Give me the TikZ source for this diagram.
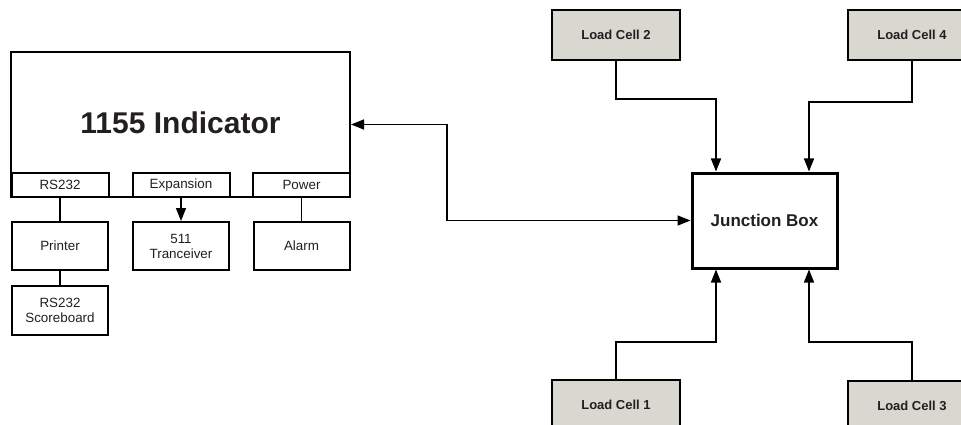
\documentclass[tikz,border=0pt]{standalone}
\usepackage{fontspec}
\setmainfont{Liberation Sans}
\usetikzlibrary{arrows.meta}
\definecolor{cellgray}{RGB}{216,215,208}
\definecolor{txt}{RGB}{35,31,32}

\begin{document}
\begin{tikzpicture}[x=1pt,y=-1pt,
  box/.style={draw,line width=2pt,rectangle,inner sep=0pt,text=txt,align=center,font=\fontsize{13.4}{15}\selectfont},
  port/.style={box,fill=white,minimum width=97pt,minimum height=24pt},
  unit/.style={box,minimum width=96pt,minimum height=48pt},
  cell/.style={box,fill=cellgray,minimum width=128pt,minimum height=50pt,font=\fontsize{13}{15}\selectfont\bfseries},
  conn/.style={line width=1.5pt},
  tip/.style={-{Triangle[length=13pt,width=10pt]}}]
\useasboundingbox (0,0) rectangle (961,425);
\node[box,minimum width=339pt,minimum height=145pt] (ind) at (180.5,124.5) {};
\node[text=txt,font=\fontsize{30}{34}\selectfont\bfseries] (indlabel) at (180.5,123) {1155 Indicator};
\node[port] (rs) at (60,185) {RS232};
\node[port] (exp) at (181,185) {Expansion};
\node[port] (pow) at (301.5,185) {Power};
\node[unit] (prn) at (60,246) {Printer};
\node[unit] (trx) at (181,246) {511\\Tranceiver};
\node[unit] (alm) at (301.5,246) {Alarm};
\node[unit,minimum height=49pt] (sb) at (60,310.5) {RS232\\Scoreboard};
\node[box,line width=3pt,minimum width=145pt,minimum height=95pt,font=\fontsize{17}{20}\selectfont\bfseries] (jb) at (764.5,220.5) {Junction Box};
\node[cell] (lc2) at (616,35) {Load Cell 2};
\node[cell] (lc4) at (912,35) {Load Cell 4};
\node[cell] (lc1) at (616,405) {Load Cell 1};
\node[cell] (lc3) at (912,406) {Load Cell 3};
\draw[conn] (rs) -- (prn);
\draw[conn] (prn) -- (sb);
\draw[conn] (pow) -- (alm);
\draw[conn,tip] (exp) -- (trx);
\draw[conn,{Triangle[length=13pt,width=10pt]}-{Triangle[length=13pt,width=10pt]}] (ind.east) -- (447,124.5) |- (jb.west);
\draw[conn,tip] (lc2.south) -- (616,99) -| ([xshift=-48.5pt]jb.north);
\draw[conn,tip] (lc4.south) -- (912,102) -| ([xshift=44.5pt]jb.north);
\draw[conn,tip] (lc1.north) -- (616,342) -| ([xshift=-48.5pt]jb.south);
\draw[conn,tip] (lc3.north) -- (912,342) -| ([xshift=44.5pt]jb.south);
\end{tikzpicture}
\end{document}
